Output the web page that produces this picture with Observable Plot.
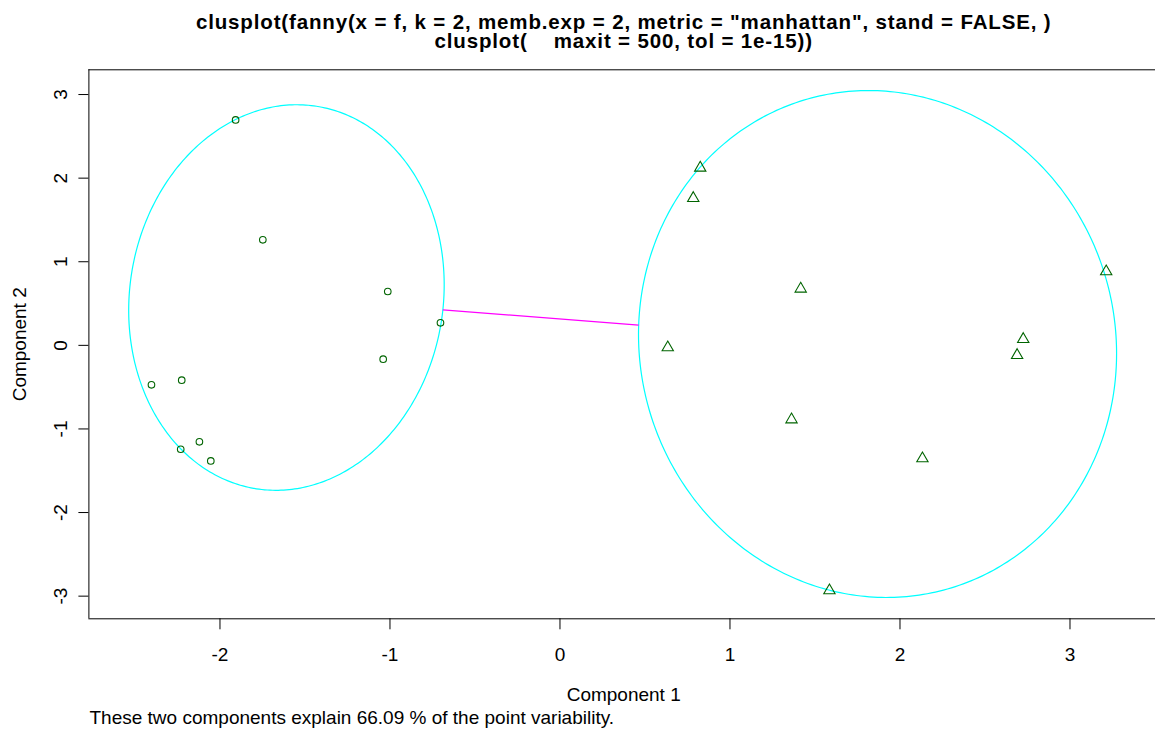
<!DOCTYPE html>
<html>
<head>
<meta charset="utf-8">
<script src="https://cdn.jsdelivr.net/npm/d3@7"></script>
<script src="https://cdn.jsdelivr.net/npm/@observablehq/plot@0.6"></script>
<style>
  html, body { margin: 0; padding: 0; background: #ffffff; }
  #chart svg { display: block; }
</style>
</head>
<body>
<div id="chart"></div>
<script>
// ---- data ----
const titleLines = [
  'clusplot(fanny(x = f, k = 2, memb.exp = 2, metric = "manhattan", stand = FALSE, )',
  'clusplot(    maxit = 500, tol = 1e-15))'
];
const xLabel = "Component 1";
const yLabel = "Component 2";
const caption = "These two components explain 66.09 % of the point variability.";

const xTicks = [-2, -1, 0, 1, 2, 3];
const yTicks = [-3, -2, -1, 0, 1, 2, 3];

// cluster 1 (circles)
const c1x = [-1.908, -1.748, -1.013, -0.703, -1.040, -2.403, -2.225, -2.121, -2.231, -2.054];
const c1y = [ 2.697,  1.262,  0.644,  0.269, -0.166, -0.472, -0.417, -1.154, -1.243, -1.382];
// cluster 2 (triangles)
const c2x = [0.825, 0.784, 1.416, 0.634, 1.362, 2.132, 1.585, 2.689, 2.725, 3.213];
const c2y = [2.123, 1.760, 0.676, -0.026, -0.888, -1.354, -2.933, -0.118, 0.073, 0.883];

// cluster ellipses: centre and spread matrix (sxx, syy, sxy)
const ellCx  = [-1.609, 1.868];
const ellCy  = [ 0.572, 0.016];
const ellSxx = [0.861, 1.977];
const ellSyy = [5.318, 9.193];
const ellSxy = [0.141, -0.160];

const xDomain = [-2.771, 3.503];
const yDomain = [-3.271, 3.296];

// ---- derived tables ----
const pts1 = c1x.map((x, i) => ({x, y: c1y[i]}));
const pts2 = c2x.map((x, i) => ({x, y: c2y[i]}));

const ellPts = [];
for (let k = 0; k < 2; k++) {
  const l11 = Math.sqrt(ellSxx[k]);
  const l21 = ellSxy[k] / l11;
  const l22 = Math.sqrt(ellSyy[k] - l21 * l21);
  for (let j = 0; j <= 360; j++) {
    const t = j / 360 * 2 * Math.PI;
    ellPts.push({
      cluster: k,
      x: ellCx[k] + l11 * Math.cos(t),
      y: ellCy[k] + l21 * Math.cos(t) + l22 * Math.sin(t)
    });
  }
}

// segment between the two ellipses along the line joining the centres
function boundary(k, dx, dy) {
  const a = ellSxx[k], b = ellSxy[k], c = ellSyy[k];
  const det = a * c - b * b;
  const q = (c * dx * dx - 2 * b * dx * dy + a * dy * dy) / det;
  const s = 1 / Math.sqrt(q);
  return {x: ellCx[k] + s * dx, y: ellCy[k] + s * dy};
}
const ddx = ellCx[1] - ellCx[0], ddy = ellCy[1] - ellCy[0];
const pA = boundary(0, ddx, ddy);
const pB = boundary(1, -ddx, -ddy);
const links = [{x1: pA.x, y1: pA.y, x2: pB.x, y2: pB.y}];

const W = 1155, H = 729;
const mTop = 69.3, mBottom = 110.7, mLeft = 88.4;

const chart = Plot.plot({
  width: W,
  height: H,
  marginTop: mTop,
  marginBottom: mBottom,
  marginLeft: mLeft,
  marginRight: 0,
  style: {
    fontFamily: "'Liberation Sans', Arial, sans-serif",
    fontSize: "19px",
    background: "#ffffff",
    color: "#000000",
    overflow: "visible"
  },
  x: {domain: xDomain, axis: null},
  y: {domain: yDomain, axis: null},
  marks: [
    // box (right edge lies just outside the picture)
    Plot.ruleY([yDomain[1]], {stroke: "#000", strokeWidth: 1}),
    Plot.ruleY([yDomain[0]], {stroke: "#000", strokeWidth: 1}),
    Plot.ruleX([xDomain[0]], {stroke: "#000", strokeWidth: 1}),
    Plot.axisX({ticks: xTicks, tickSize: 11, tickFormat: () => "", label: null, stroke: "#000"}),
    Plot.axisY({ticks: yTicks, tickSize: 10, tickFormat: () => "", label: null, stroke: "#000"}),
    Plot.text(xTicks, {x: d => d, text: d => String(d), frameAnchor: "bottom", dy: 36.5, lineAnchor: "middle", fill: "#000"}),
    Plot.text(yTicks, {y: d => d, text: d => String(d), frameAnchor: "left", dx: -28.4, rotate: -90, textAnchor: "middle", lineAnchor: "middle", fill: "#000"}),
    Plot.line(ellPts, {x: "x", y: "y", z: "cluster", stroke: "#00FFFF", strokeWidth: 1.2, curve: "linear"}),
    Plot.link(links, {x1: "x1", y1: "y1", x2: "x2", y2: "y2", stroke: "#FF00FF", strokeWidth: 1.2}),
    Plot.dot(pts1, {x: "x", y: "y", symbol: "circle", r: 3.3, stroke: "#006400", fill: "none", strokeWidth: 1.1}),
    Plot.dot(pts2, {x: "x", y: "y", symbol: "triangle", r: 4.2, stroke: "#006400", fill: "none", strokeWidth: 1.1}),
    // titles and labels
    Plot.text([titleLines[0]], {frameAnchor: "top", dx: 1.5, dy: 28.5 - mTop, lineAnchor: "bottom", fontWeight: "bold", fontSize: 20.5, fill: "#000"}),
    Plot.text([titleLines[1]], {frameAnchor: "top", dx: 1.5, dy: 47 - mTop, lineAnchor: "bottom", fontWeight: "bold", fontSize: 20.5, fill: "#000"}),
    Plot.text([xLabel], {frameAnchor: "bottom", dx: 1.5, dy: 694 - (H - mBottom), lineAnchor: "middle", fill: "#000"}),
    Plot.text([yLabel], {frameAnchor: "left", dx: 19 - mLeft, rotate: -90, textAnchor: "middle", lineAnchor: "middle", fill: "#000"}),
    Plot.text([caption], {frameAnchor: "bottom-left", dx: 0.6, dy: 717 - (H - mBottom), textAnchor: "start", lineAnchor: "middle", fill: "#000"})
  ]
});
// widen the bold title slightly so its width matches the reference
d3.select(chart).selectAll("text").filter(function () {
  return titleLines.includes(this.textContent);
}).attr("letter-spacing", "0.85px");
document.getElementById("chart").appendChild(chart);
</script>
</body>
</html>
